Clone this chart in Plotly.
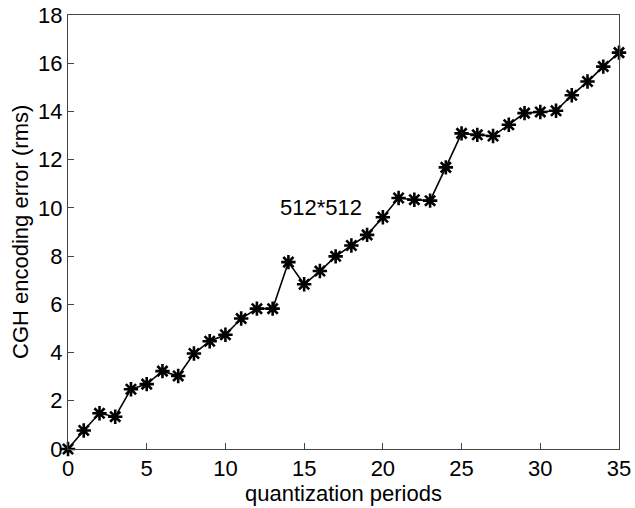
import plotly.graph_objects as go

periods = list(range(0, 36))
errors = [0.0, 0.77, 1.48, 1.34, 2.48, 2.69, 3.23, 3.03, 3.96, 4.47,
          4.74, 5.41, 5.82, 5.82, 7.75, 6.83, 7.38, 7.99, 8.44, 8.88,
          9.61, 10.41, 10.34, 10.30, 11.68, 13.09, 13.03, 12.98, 13.45, 13.93,
          13.98, 14.03, 14.67, 15.24, 15.86, 16.44]
x_ticks = [0, 5, 10, 15, 20, 25, 30, 35]
y_ticks = [0, 2, 4, 6, 8, 10, 12, 14, 16, 18]
label_text = "512*512"
x_title = "quantization periods"
y_title = "CGH encoding error (rms)"

font = dict(family="Liberation Sans, Arial, sans-serif", size=22, color="black")

fig = go.Figure()
fig.add_trace(go.Scatter(
    x=periods, y=errors, mode="lines+markers",
    line=dict(color="black", width=1.6),
    marker=dict(symbol="asterisk-open", size=12, color="black",
                line=dict(color="black", width=2.6)),
    showlegend=False, cliponaxis=False,
))
fig.add_annotation(x=16.1, y=10.0, text=label_text, showarrow=False,
                   font=font, xanchor="center", yanchor="middle")
fig.add_annotation(x=0.5, y=0, xref="paper", yref="paper", yshift=-44,
                   text=x_title, showarrow=False, font=font,
                   xanchor="center", yanchor="middle")
fig.add_annotation(x=0, y=0.5, xref="paper", yref="paper", xshift=-48,
                   text=y_title, showarrow=False, font=font, textangle=-90,
                   xanchor="center", yanchor="middle")

axis_common = dict(showgrid=False, zeroline=False, showline=True, mirror=True,
                   linecolor="#444", linewidth=1, ticks="inside", ticklen=6,
                   tickcolor="#444", tickfont=font, automargin=False)
fig.update_xaxes(range=[0, 35], tickvals=x_ticks, **axis_common)
fig.update_yaxes(range=[0, 18], tickvals=y_ticks, **axis_common)
fig.update_layout(width=635, height=508, paper_bgcolor="white", plot_bgcolor="white",
                  margin=dict(l=68, r=16, t=15, b=59), font=font)
fig.write_html("out.html", config={"displayModeBar": False})

with open("out.html", "r", encoding="utf-8") as f:
    html = f.read()
html = html.replace("<head>", "<head><style>html,body{margin:0;padding:0;overflow:hidden;}</style>", 1)
with open("out.html", "w", encoding="utf-8") as f:
    f.write(html)
